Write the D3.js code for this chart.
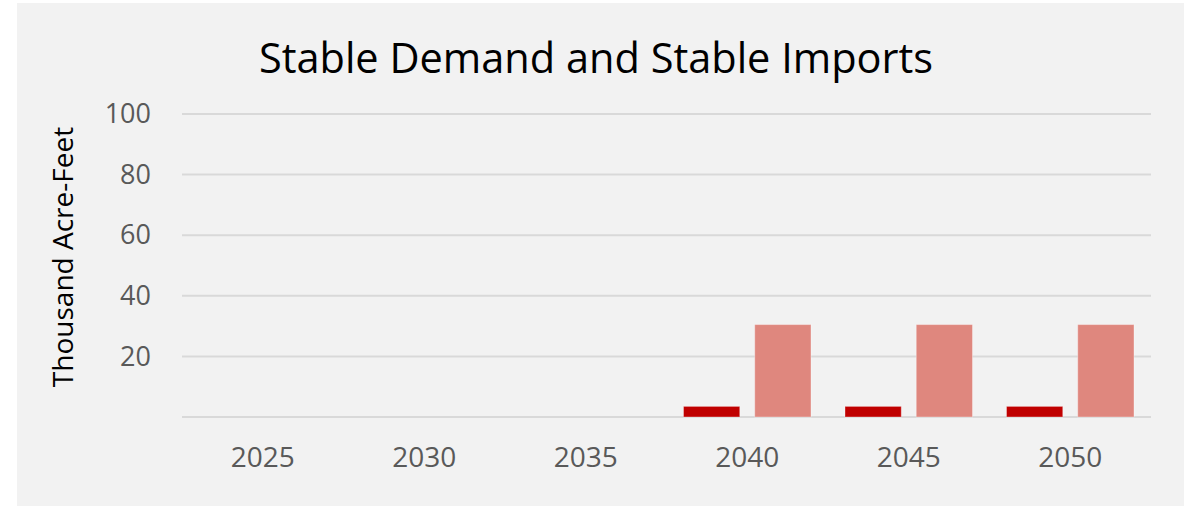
<!DOCTYPE html>
<html>
<head>
<meta charset="utf-8">
<script src="https://cdn.jsdelivr.net/npm/d3@7"></script>
<style>
  body { margin: 0; background: #fff; }
  text { font-family: 'Open Sans', 'Noto Sans', sans-serif; }
</style>
</head>
<body>
<div id="chart"></div>
<script>
// chart data
const years = ['2025', '2030', '2035', '2040', '2045', '2050'];
const seriesNames = ['Demand', 'Imports'];
const demandValues = [0, 0, 0, 3.5, 3.5, 3.5];
const importValues = [0, 0, 0, 30.5, 30.5, 30.5];
const yTicks = [20, 40, 60, 80, 100];
const gridValues = [0, 20, 40, 60, 80, 100];
const colors = ['#c00000', '#df877e'];

const width = 1192;
const height = 506;
const margin = { top: 114, right: 41, bottom: 89, left: 182 };

const rows = years.map((y, i) => ({ year: y, values: [demandValues[i], importValues[i]] }));

const svg = d3.select('#chart')
  .append('svg')
  .attr('width', width)
  .attr('height', height);

// panel background
svg.append('rect')
  .attr('x', 17)
  .attr('y', 3)
  .attr('width', 1167)
  .attr('height', 503)
  .attr('fill', '#f2f2f2');

// scales
const x0 = d3.scaleBand()
  .domain(years)
  .range([margin.left, width - margin.right])
  .padding(0);

const x1 = d3.scaleBand()
  .domain(seriesNames)
  .range([17, x0.bandwidth() - 17])
  .paddingInner(0.21)
  .paddingOuter(0);

const y = d3.scaleLinear()
  .domain([0, 100])
  .range([height - margin.bottom, margin.top]);

// gridlines
svg.append('g')
  .selectAll('line')
  .data(gridValues)
  .enter()
  .append('line')
  .attr('x1', margin.left)
  .attr('x2', width - margin.right)
  .attr('y1', d => y(d))
  .attr('y2', d => y(d))
  .attr('stroke', '#d9d9d9')
  .attr('stroke-width', 2);

// y axis labels
const yAxis = svg.append('g')
  .attr('transform', `translate(${margin.left - 31}, 0)`)
  .call(d3.axisLeft(y).tickValues(yTicks).tickSize(0).tickPadding(0));
yAxis.select('.domain').remove();
yAxis.selectAll('text')
  .attr('fill', '#595959')
  .style('font-size', '27px')
  .style('font-family', "'Open Sans', sans-serif");

// x axis labels
const xAxis = svg.append('g')
  .attr('transform', `translate(0, ${height - margin.bottom})`)
  .call(d3.axisBottom(x0).tickSize(0).tickPadding(30));
xAxis.select('.domain').remove();
xAxis.selectAll('text')
  .attr('fill', '#595959')
  .style('font-size', '28px')
  .style('font-family', "'Open Sans', sans-serif");

// bars
const groups = svg.append('g')
  .selectAll('g')
  .data(rows)
  .enter()
  .append('g')
  .attr('transform', d => `translate(${x0(d.year)}, 0)`);

groups.selectAll('rect')
  .data(d => d.values.map((v, i) => ({ key: seriesNames[i], value: v, i })))
  .enter()
  .append('rect')
  .filter(d => d.value > 0)
  .attr('x', d => x1(d.key))
  .attr('y', d => y(d.value))
  .attr('width', x1.bandwidth())
  .attr('height', d => y(0) - y(d.value))
  .attr('fill', d => colors[d.i])
  .attr('stroke', 'rgba(255,255,255,0.35)')
  .attr('stroke-width', 1);

// axis title
svg.append('text')
  .attr('transform', `translate(73, 257) rotate(-90)`)
  .attr('text-anchor', 'middle')
  .style('font-size', '28px')
  .attr('fill', '#000')
  .text('Thousand Acre-Feet');

// chart title
svg.append('text')
  .attr('x', 596)
  .attr('y', 73)
  .attr('text-anchor', 'middle')
  .style('font-size', '41.5px')
  .attr('fill', '#000')
  .text('Stable Demand and Stable Imports');
</script>
</body>
</html>
